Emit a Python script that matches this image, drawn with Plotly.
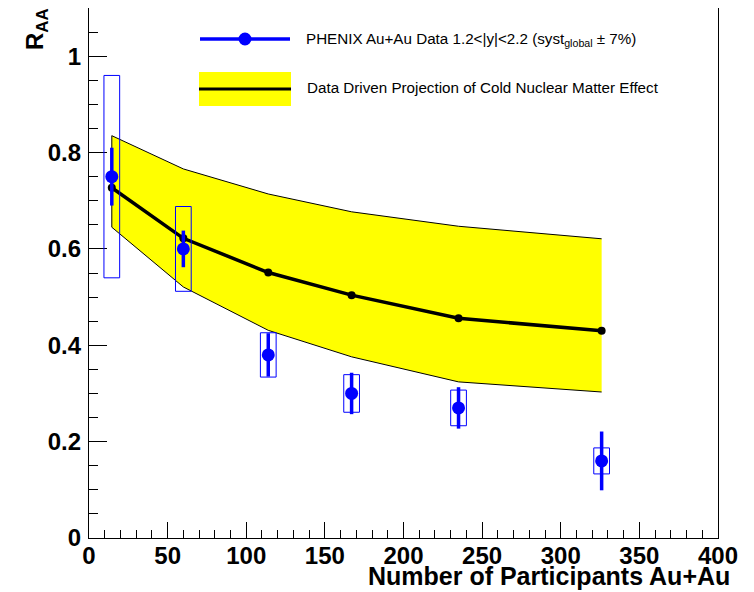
import plotly.graph_objects as go

# ---- data ----
npart = [14.5, 60, 114, 167, 235, 326]
raa = [0.75, 0.60, 0.38, 0.30, 0.27, 0.16]
stat_err = [0.060, 0.038, 0.045, 0.043, 0.043, 0.061]
sys_err = [0.210, 0.088, 0.046, 0.039, 0.037, 0.027]

cnm = [0.727, 0.622, 0.551, 0.504, 0.456, 0.430]
cnm_hi = [0.835, 0.766, 0.714, 0.677, 0.647, 0.621]
cnm_lo = [0.645, 0.521, 0.431, 0.376, 0.324, 0.303]

legend_data = "PHENIX Au+Au Data 1.2&lt;|y|&lt;2.2 (syst<sub>global</sub> ± 7%)"
legend_cnm = "Data Driven Projection of Cold Nuclear Matter Effect"
xtitle = "Number of Participants Au+Au"
ytitle = "R<sub>AA</sub>"

BOX_HALF = 5  # half width of systematic boxes (x units)
BLUE = "#0000ff"
FONT = "Liberation Sans"

# page offset (default body margin of the html page)
OFF = 8
W, H = 754, 592
# desired plot area in window pixels
PL, PR, PT, PB = 89, 718, 8, 538
L, T = PL - OFF, PT - OFF
R, B = W - (PR - OFF), H - (PB - OFF)
PW, PH = PR - PL, PB - PT


def px(x):
    return (x - PL) / PW


def py(y):
    return (PB - y) / PH


fig = go.Figure()

# yellow band
fig.add_trace(go.Scatter(
    x=npart + npart[::-1], y=cnm_hi + cnm_lo[::-1],
    fill="toself", fillcolor="#ffff00", line=dict(width=0),
    mode="lines", hoverinfo="skip", showlegend=False))
# band outline (top, left edge, bottom)
fig.add_trace(go.Scatter(
    x=npart[::-1] + npart, y=cnm_hi[::-1] + cnm_lo,
    mode="lines", line=dict(color="black", width=1),
    hoverinfo="skip", showlegend=False))
# central CNM line
fig.add_trace(go.Scatter(
    x=npart, y=cnm, mode="lines+markers",
    line=dict(color="black", width=3.5),
    marker=dict(color="black", size=8),
    showlegend=False))

# systematic boxes
for x, y, s in zip(npart, raa, sys_err):
    fig.add_shape(type="rect", xref="x", yref="y",
                  x0=x - BOX_HALF, x1=x + BOX_HALF, y0=y - s, y1=y + s,
                  line=dict(color=BLUE, width=1), fillcolor="rgba(0,0,0,0)",
                  layer="above")

# data points
fig.add_trace(go.Scatter(
    x=npart, y=raa, mode="markers",
    marker=dict(color=BLUE, size=13),
    error_y=dict(type="data", array=stat_err, color=BLUE, thickness=3.5, width=0),
    showlegend=False))

# ---- legend (drawn manually) ----
fig.add_shape(type="line", xref="paper", yref="paper",
              x0=px(200), x1=px(290), y0=py(39), y1=py(39),
              line=dict(color=BLUE, width=3.5))
fig.add_shape(type="circle", xref="paper", yref="paper",
              x0=px(238.5), x1=px(251.5), y0=py(45.5), y1=py(32.5),
              line=dict(color=BLUE, width=0), fillcolor=BLUE)
fig.add_shape(type="rect", xref="paper", yref="paper",
              x0=px(199), x1=px(291), y0=py(106), y1=py(72),
              line=dict(width=0), fillcolor="#ffff00")
fig.add_shape(type="line", xref="paper", yref="paper",
              x0=px(199), x1=px(291), y0=py(89), y1=py(89),
              line=dict(color="black", width=3))

fig.add_annotation(text=legend_data, xref="paper", yref="paper",
                   x=px(304), y=py(40), xanchor="left", yanchor="middle",
                   showarrow=False, font=dict(family=FONT, size=15.2, color="black"))
fig.add_annotation(text=legend_cnm, xref="paper", yref="paper",
                   x=px(305), y=py(88), xanchor="left", yanchor="middle",
                   showarrow=False, font=dict(family=FONT, size=15.2, color="black"))

# axis titles
fig.add_annotation(text=xtitle, xref="paper", yref="paper",
                   x=px(732), y=py(576), xanchor="right", yanchor="middle",
                   showarrow=False,
                   font=dict(family=FONT, size=25, color="black", weight="bold"))
fig.add_annotation(text=ytitle, xref="paper", yref="paper",
                   x=px(36), y=py(6), xanchor="center", yanchor="top",
                   textangle=-90, showarrow=False,
                   font=dict(family=FONT, size=24, color="black", weight="bold"))

axis_common = dict(showline=True, linecolor="black", linewidth=1.2, mirror=True,
                   showgrid=False, zeroline=False, ticks="inside",
                   tickcolor="black", tickwidth=1.2, automargin=False,
                   tickfont=dict(family=FONT, size=24, color="black", weight="bold"))

fig.update_xaxes(range=[0, 400], dtick=50, tick0=0, ticklen=16,
                 minor=dict(dtick=10, ticklen=8, ticks="inside", tickcolor="black", tickwidth=1.2),
                 ticklabelstandoff=-4,
                 **axis_common)
fig.update_yaxes(range=[0, 1.1], dtick=0.2, tick0=0, ticklen=18,
                 minor=dict(dtick=0.05, ticklen=9, ticks="inside", tickcolor="black", tickwidth=1.2),
                 ticklabelstandoff=2,
                 **axis_common)

fig.update_layout(width=W, height=H,
                  margin=dict(l=L, r=R, t=T, b=B, pad=0),
                  paper_bgcolor="white", plot_bgcolor="white",
                  showlegend=False)

fig.write_html("out.html")
